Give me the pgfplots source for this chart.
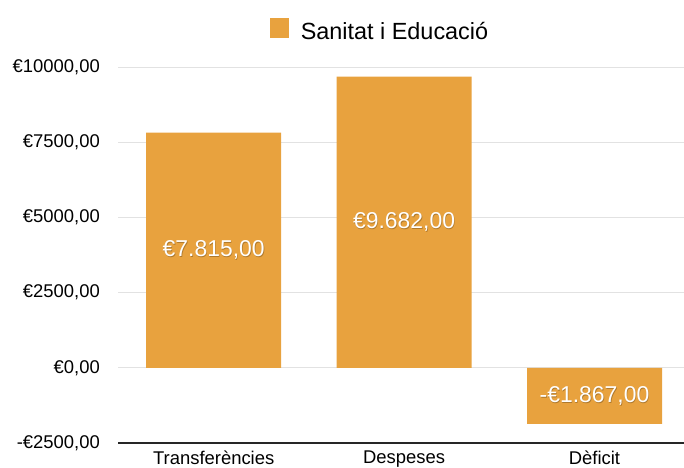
\documentclass[border=0pt]{standalone}
\usepackage{fontspec}
\setmainfont{Liberation Sans}
\usepackage{pgfplots}
\pgfplotsset{compat=1.18}
\definecolor{barcol}{RGB}{232,162,62}
\definecolor{gridcol}{RGB}{226,226,226}
\begin{document}
\begin{tikzpicture}
\useasboundingbox (-118.5bp,-25bp) rectangle (565.5bp,443bp);
\begin{axis}[
  at={(0,0)}, anchor=south west,
  scale only axis, width=565.5bp, height=376bp,
  xmin=-0.5, xmax=2.47, ymin=-2500, ymax=10000,
  scaled y ticks=false,
  axis x line*=bottom, axis y line*=left,
  x axis line style={-, line width=1.6pt, draw=black!85},
  y axis line style={draw=none},
  major tick length=0pt,
  ymajorgrids, grid style={gridcol, line width=0.9pt},
  ytick={-2500,0,2500,5000,7500,10000},
  yticklabels={{-€2500,00},{€0,00},{€2500,00},{€5000,00},{€7500,00},{€10000,00}},
  xtick={0,1,2},
  xticklabels={Transferències,Despeses,Dèficit},
  yticklabel style={anchor=east, inner sep=0pt, xshift=-18.5bp, font=\fontsize{18.5}{18.5}\selectfont},
  xticklabel style={anchor=north, inner sep=0pt, yshift=-8bp, font=\fontsize{18.5}{18.5}\selectfont},
  legend style={at={(0.4624,1.097)}, anchor=center, draw=none, fill=none,
    column sep=10bp, font=\fontsize{23.5}{23.5}\selectfont},
  legend image code/.code={\fill[barcol] (0bp,-6.5bp) rectangle (19bp,13.5bp);},
  clip=false,
]
\addplot[ybar, bar width=0.709, fill=barcol, draw=none]
  coordinates {(0,7815) (1,9682) (2,-1867)};
\addlegendentry{Sanitat i Educació}
% shadow of value labels
\addplot[draw=none, mark=none, forget plot, nodes near coords, point meta=explicit symbolic,
  every node near coord/.append style={anchor=center, text=black, opacity=0.25, xshift=0.6bp, yshift=-1.2bp,
    font=\fontsize{23}{23}\selectfont}]
  coordinates {(0,3907.5) [€7.815,00] (1,4841) [€9.682,00] (2,-933.5) [-€1.867,00]};
\addplot[draw=none, mark=none, forget plot, nodes near coords, point meta=explicit symbolic,
  every node near coord/.append style={anchor=center, text=white,
    font=\fontsize{23}{23}\selectfont}]
  coordinates {(0,3907.5) [€7.815,00] (1,4841) [€9.682,00] (2,-933.5) [-€1.867,00]};
\end{axis}
\end{tikzpicture}
\end{document}
